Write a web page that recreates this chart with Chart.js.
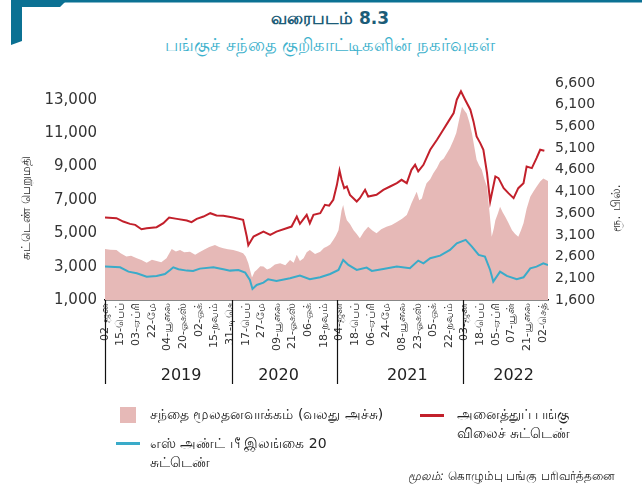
<!DOCTYPE html>
<html lang="ta">
<head>
<meta charset="utf-8">
<script src="https://cdn.jsdelivr.net/npm/chart.js@4.4.1/dist/chart.umd.min.js"></script>
<style>
  html, body { margin: 0; padding: 0; background: #fff; }
  body { width: 642px; height: 488px; position: relative; overflow: hidden; font-family: 'DejaVu Sans', 'Noto Sans', sans-serif; color: #222; }
  #corner { position: absolute; left: 0; top: 0; }
  .title { position: absolute; left: 0; width: 660px; text-align: center; }
  #t1 { top: 8px; font-size: 17px; font-weight: bold; color: #1c5c78; }
  #t2 { top: 34px; font-size: 18px; color: #3fb2cd; }
  #chartBox { position: absolute; left: 0; top: 0; width: 642px; height: 488px; }
  .leg { position: absolute; font-size: 14px; line-height: 19px; color: #222; }
  .swatch { position: absolute; }
  #source { position: absolute; left: 408px; top: 469px; font-size: 11.5px; color: #222; }
  #source i { font-style: italic; }
</style>
</head>
<body>
<svg id="corner" width="642" height="60">
  <rect x="60" y="0" width="582" height="2.5" fill="#0b7193"/>
  <polygon points="11,0 67,0 60,7 22,7 22,41 11,45" fill="#0b7193"/>
</svg>
<div class="title" id="t1">வரைபடம் 8.3</div>
<div class="title" id="t2">பங்குச் சந்தை குறிகாட்டிகளின் நகர்வுகள்</div>

<div id="chartBox"><canvas id="marketChart" width="642" height="488"></canvas></div>

<div class="swatch" style="left:120px;top:407px;width:16px;height:16px;background:#e6b9b7;"></div>
<div class="leg" style="left:150px;top:405px;">சந்தை மூலதனவாக்கம் (வலது அச்சு)</div>
<div class="swatch" style="left:420px;top:414px;width:24px;height:2.5px;background:#c2202b;"></div>
<div class="leg" style="left:457px;top:405px;">அனைத்துப் பங்கு<br>விலைச் சுட்டெண்</div>
<div class="swatch" style="left:116px;top:442px;width:24px;height:2.5px;background:#3aabc9;"></div>
<div class="leg" style="left:150px;top:434px;">எஸ் அண்ட் பீ இலங்கை 20<br>சுட்டெண்</div>
<div id="source"><i>மூலம்:</i> கொழும்பு பங்கு பரிவர்த்தனை</div>

<script>
// x axis is the trading-day count from 02 Jan 2019; a date label every 30 sessions
const labelStep = 30;
const lastDay = 850;
const dateLabels = [
  '02-ஜன', '15-பெப்', '03-ஏப்ரி', '22-மே', '04-யூலை', '20-ஓகஸ்', '02-ஒக்', '15-நவம்', '31-டிசெ',
  '17-பெப்', '27-மே', '09-யூலை', '21-ஓகஸ்', '06-ஒக்', '18-நவம்',
  '04-ஜன', '18-பெப்', '06-ஏப்ரி', '24-மே', '08-யூலை', '23-ஓகஸ்', '05-ஒக்', '22-நவம்',
  '03-ஜன', '18-பெப்', '05-ஏப்ரி', '07-யூன்', '21-யூலை', '02-செத்'
];
const yearNames = ['2019', '2020', '2021', '2022'];
const yearStarts = [243, 446, 686];      // first session of 2020, 2021, 2022
const yearMiddles = [146, 333, 580, 784];

const leftTicks = [1000, 3000, 5000, 7000, 9000, 11000, 13000];
const rightTicks = [1600, 2100, 2600, 3100, 3600, 4100, 4600, 5100, 5600, 6100, 6600];

// market capitalisation, Rs. bn (right axis)
const capDays = [0, 10, 22, 30, 41, 50, 61, 70, 80, 90, 99, 108, 118, 128, 136, 144, 152, 163, 173, 181,
  189, 200, 211, 219, 227, 236, 246, 256, 265, 270, 275, 282, 287, 291, 298, 304, 311, 317, 326, 336,
  346, 355, 362, 368, 374, 381, 387, 393, 403, 413, 420, 426, 432, 438, 443, 448, 454, 457, 461, 464,
  470, 477, 483, 489, 497, 505, 513, 521, 530, 540, 550, 560, 570, 579, 584, 588, 593, 598, 603, 608,
  613, 617, 624, 630, 637, 643, 650, 656, 662, 669, 674, 678, 682, 685, 690, 694, 699, 704, 709, 713,
  718, 723, 728, 733, 738, 742, 746, 749, 754, 758, 763, 768, 774, 781, 787, 793, 798, 803, 809, 816,
  822, 828, 835, 841, 850];
const capValues = [2775, 2760, 2750, 2680, 2600, 2620, 2560, 2520, 2460, 2530, 2500, 2470, 2560, 2775, 2720, 2750, 2700, 2710, 2640, 2700,
  2750, 2820, 2870, 2820, 2790, 2770, 2750, 2720, 2675, 2600, 2445, 2120, 2250, 2290, 2380, 2370, 2300, 2330, 2420, 2445,
  2400, 2520, 2460, 2640, 2500, 2560, 2700, 2750, 2660, 2710, 2800, 2830, 2880, 2980, 3080, 3210, 3670, 3790, 3560, 3440,
  3350, 3210, 3120, 3020, 3180, 3290, 3200, 3140, 3230, 3290, 3330, 3400, 3470, 3560, 3700, 3830, 3960, 4095, 3900, 3940,
  4150, 4290, 4380, 4520, 4650, 4790, 4860, 4980, 5100, 5290, 5450, 5670, 5900, 6050, 5960, 5900, 5700, 5440, 5100, 4830,
  4700, 4600, 4380, 4210, 3600, 3060, 3250, 3440, 3600, 3750, 3620, 3520, 3380, 3210, 3120, 3060, 3200, 3370, 3700, 3980,
  4100, 4210, 4330, 4400, 4340];

// All Share Price Index (left axis)
const aspiDays = [0, 22, 35, 48, 58, 70, 80, 99, 112, 123, 138, 157, 166, 176, 189, 202, 214, 227, 246, 265,
  272, 275, 285, 304, 317, 329, 358, 368, 374, 387, 393, 400, 413, 422, 430, 438, 445, 450, 454, 459,
  464, 470, 483, 489, 499, 505, 521, 534, 547, 560, 569, 579, 588, 595, 601, 611, 624, 637, 649, 659,
  669, 675, 683, 691, 701, 707, 713, 720, 726, 733, 739, 749, 755, 765, 774, 784, 793, 803, 809, 819,
  828, 835, 843];
const aspiValues = [5940, 5900, 5700, 5560, 5500, 5240, 5300, 5360, 5600, 5940, 5860, 5760, 5660, 5860, 6000, 6200, 6060, 6040, 5940, 5800,
  4800, 4280, 4800, 5100, 4900, 5100, 5400, 6000, 5560, 6100, 5600, 6100, 6200, 6700, 6650, 7000, 7900, 8760, 8200, 7700,
  7800, 7300, 6900, 7100, 7600, 7200, 7300, 7600, 7800, 8000, 8200, 8000, 8800, 9100, 8700, 9100, 10000, 10600, 11200, 11700,
  12200, 13000, 13500, 13000, 12400, 11700, 10800, 10400, 10000, 8600, 6900, 8400, 8300, 7700, 7400, 7100, 7700, 8000, 9000, 8900,
  9500, 10000, 9940];

// S&P Sri Lanka 20 (left axis)
const spDays = [0, 29, 45, 61, 80, 99, 115, 125, 131, 141, 157, 169, 182, 208, 227, 240, 256, 269, 278, 283,
  291, 304, 313, 329, 355, 374, 393, 413, 432, 448, 457, 467, 483, 502, 512, 534, 560, 585, 601, 611,
  624, 643, 662, 675, 692, 704, 717, 729, 739, 745, 758, 771, 790, 803, 816, 828, 841, 850];
const spValues = [3000, 2960, 2700, 2600, 2400, 2440, 2560, 2800, 2960, 2840, 2760, 2740, 2880, 2960, 2840, 2760, 2800, 2640, 2200, 1660,
  1900, 2040, 2240, 2140, 2300, 2460, 2240, 2360, 2560, 2800, 3400, 3100, 2800, 2940, 2740, 2860, 3000, 2900, 3360, 3200,
  3500, 3660, 4000, 4400, 4600, 4200, 3700, 3600, 2800, 2100, 2700, 2440, 2240, 2360, 2900, 3000, 3200, 3100];

const toPoints = (days, values) => days.map((d, i) => ({ x: d, y: values[i] }));

// year bands under the date labels, plus the two axis titles
const yearBands = {
  id: 'yearBands',
  afterDraw(chart) {
    const { ctx, chartArea, scales } = chart;
    const x = scales.x;
    ctx.save();
    ctx.strokeStyle = '#111';
    ctx.lineWidth = 1.2;
    const lines = [chartArea.left].concat(yearStarts.map(d => x.getPixelForValue(d)));
    lines.forEach(px => {
      ctx.beginPath();
      ctx.moveTo(Math.round(px) + 0.5, chartArea.bottom);
      ctx.lineTo(Math.round(px) + 0.5, 384);
      ctx.stroke();
    });
    ctx.fillStyle = '#222';
    ctx.font = '16px "DejaVu Sans", sans-serif';
    ctx.textAlign = 'center';
    ctx.textBaseline = 'middle';
    yearNames.forEach((y, i) => ctx.fillText(y, x.getPixelForValue(yearMiddles[i]), 376));

    ctx.font = '12px "DejaVu Sans", sans-serif';
    ctx.fillStyle = '#333';
    ctx.translate(27, 208);
    ctx.rotate(-Math.PI / 2);
    ctx.fillText('சுட்டெண் பெறுமதி', 0, 0);
    ctx.rotate(Math.PI / 2);
    ctx.translate(617 - 27, 0);
    ctx.rotate(-Math.PI / 2);
    ctx.font = '13px "DejaVu Sans", sans-serif';
    ctx.fillText('ரூ. பில்.', 0, 0);
    ctx.restore();
  }
};

new Chart(document.getElementById('marketChart'), {
  type: 'line',
  data: {
    datasets: [
      {
        label: 'அனைத்துப் பங்கு விலைச் சுட்டெண்',
        data: toPoints(aspiDays, aspiValues),
        yAxisID: 'yLeft',
        borderColor: '#c2202b',
        borderWidth: 2,
        pointRadius: 0,
        tension: 0,
        fill: false,
        order: 0
      },
      {
        label: 'எஸ் அண்ட் பீ இலங்கை 20 சுட்டெண்',
        data: toPoints(spDays, spValues),
        yAxisID: 'yLeft',
        borderColor: '#3aabc9',
        borderWidth: 2,
        pointRadius: 0,
        tension: 0,
        fill: false,
        order: 1
      },
      {
        label: 'சந்தை மூலதனவாக்கம் (வலது அச்சு)',
        data: toPoints(capDays, capValues),
        yAxisID: 'yRight',
        borderWidth: 0,
        borderColor: 'rgba(0,0,0,0)',
        backgroundColor: '#e6b9b7',
        pointRadius: 0,
        tension: 0,
        fill: 'start',
        order: 2
      }
    ]
  },
  options: {
    responsive: false,
    animation: false,
    layout: { padding: { top: 83, bottom: 128, left: 0, right: 0 } },
    plugins: { legend: { display: false }, tooltip: { enabled: false } },
    scales: {
      x: {
        type: 'linear',
        min: 0,
        max: lastDay,
        afterBuildTicks: s => { s.ticks = dateLabels.map((_, i) => ({ value: i * labelStep })); },
        afterFit: s => { s.height = 60; },
        grid: { display: false, drawTicks: false },
        border: { display: true, color: '#111', width: 1.5 },
        ticks: {
          autoSkip: false,
          minRotation: 90,
          maxRotation: 90,
          padding: 3,
          color: '#333',
          font: { family: 'DejaVu Sans', size: 11 },
          callback: v => dateLabels[Math.round(v / labelStep)]
        }
      },
      yLeft: {
        type: 'linear',
        position: 'left',
        min: 1000,
        max: 14000,
        afterBuildTicks: s => { s.ticks = leftTicks.map(v => ({ value: v })); },
        afterFit: s => { s.width = 105; },
        grid: { display: false, drawTicks: false },
        border: { display: false },
        ticks: {
          padding: 8,
          color: '#333',
          font: { family: 'DejaVu Sans', size: 15 },
          callback: v => v.toLocaleString('en-US')
        }
      },
      yRight: {
        type: 'linear',
        position: 'right',
        min: 1600,
        max: 6600,
        afterBuildTicks: s => { s.ticks = rightTicks.map(v => ({ value: v })); },
        afterFit: s => { s.width = 94; },
        grid: { display: false, drawTicks: false },
        border: { display: false },
        ticks: {
          padding: 7,
          color: '#333',
          font: { family: 'DejaVu Sans', size: 14 },
          callback: v => v.toLocaleString('en-US')
        }
      }
    }
  },
  plugins: [yearBands]
});
</script>
</body>
</html>
